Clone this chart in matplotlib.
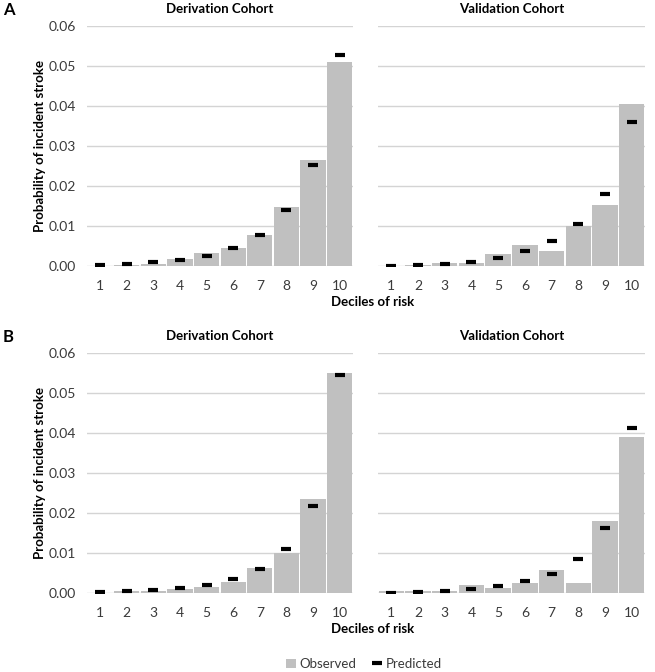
import matplotlib
matplotlib.use('Agg')
import matplotlib.pyplot as plt
from matplotlib.lines import Line2D
from matplotlib.patches import Patch
import numpy as np

plt.rcParams['font.family'] = ['Lato', 'DejaVu Sans']

# ─── Data ──────────────────────────────────────────────────────────────────────
deciles = [1, 2, 3, 4, 5, 6, 7, 8, 9, 10]

# Panel A
a_deriv_obs  = [0.0001, 0.0002, 0.0005, 0.0017, 0.0033, 0.0046, 0.0078, 0.0148, 0.0266, 0.0511]
a_deriv_pred = [0.0002, 0.0005, 0.0010, 0.0016, 0.0026, 0.0046, 0.0078, 0.0141, 0.0253, 0.0527]
a_valid_obs  = [0.0001, 0.0002, 0.0007, 0.0007, 0.0030, 0.0053, 0.0038, 0.0100, 0.0153, 0.0405]
a_valid_pred = [0.0001, 0.0003, 0.0006, 0.0011, 0.0021, 0.0037, 0.0063, 0.0106, 0.0180, 0.0361]

# Panel B
b_deriv_obs  = [0.0001, 0.0006, 0.0006, 0.0009, 0.0016, 0.0028, 0.0063, 0.0100, 0.0236, 0.0550]
b_deriv_pred = [0.0002, 0.0004, 0.0008, 0.0013, 0.0021, 0.0036, 0.0061, 0.0110, 0.0218, 0.0545]
b_valid_obs  = [0.0006, 0.0006, 0.0006, 0.0019, 0.0013, 0.0026, 0.0058, 0.0026, 0.0180, 0.0390]
b_valid_pred = [0.0001, 0.0002, 0.0005, 0.0009, 0.0017, 0.0029, 0.0048, 0.0084, 0.0162, 0.0413]

yticks = [0.00, 0.01, 0.02, 0.03, 0.04, 0.05, 0.06]

# ─── Layout ───────────────────────────────────────────────────────────────────
W, H = 655, 672
fig = plt.figure(figsize=(W / 100, H / 100), dpi=100)
fig.patch.set_facecolor('white')

BAR = '#c0c0c0'
GRID = '#d4d4d4'
TXT = '#3a3a3a'


def px_axes(x0, y0, x1, y1):
    return fig.add_axes([x0 / W, 1 - y1 / H, (x1 - x0) / W, (y1 - y0) / H])


def draw(ax, obs, pred, title, show_y):
    ax.set_axisbelow(True)
    for y in yticks:
        ax.axhline(y, color=GRID, linewidth=1.0, zorder=0)
    ax.bar(deciles, obs, width=0.95, color=BAR, edgecolor='none', zorder=2)
    ax.plot(deciles, pred, linestyle='none', marker='_', markersize=6.5,
            markeredgewidth=3, color='black', zorder=3)
    ax.set_xlim(0.5, 10.5)
    ax.set_ylim(0, 0.06)
    ax.set_xticks(deciles)
    ax.set_xticklabels([str(d) for d in deciles], fontsize=10, color=TXT)
    ax.set_yticks(yticks)
    if show_y:
        ax.set_yticklabels([f'{v:.2f}' for v in yticks], fontsize=10, color=TXT)
    else:
        ax.set_yticklabels([])
    ax.tick_params(axis='x', length=0, pad=10)
    ax.tick_params(axis='y', length=0, pad=8)
    for s in ax.spines.values():
        s.set_visible(False)
    ax.set_title(title, fontsize=9.5, fontweight='bold', pad=9)


panels = [
    ('A', 26, 266, a_deriv_obs, a_deriv_pred, a_valid_obs, a_valid_pred),
    ('B', 353, 593, b_deriv_obs, b_deriv_pred, b_valid_obs, b_valid_pred),
]

for letter, top, bot, d_obs, d_pred, v_obs, v_pred in panels:
    ax1 = px_axes(86.7, top, 353, bot)
    ax2 = px_axes(378, top, 645, bot)
    draw(ax1, d_obs, d_pred, 'Derivation Cohort', True)
    draw(ax2, v_obs, v_pred, 'Validation Cohort', False)
    fig.text(3 / W, 1 - (top - 16) / H, letter, fontsize=12, fontweight='bold',
             ha='left', va='center')
    fig.text(40 / W, 1 - ((top + bot) / 2) / H, 'Probability of incident stroke',
             rotation=90, fontsize=9.5, fontweight='bold', ha='center', va='center')
    fig.text(373 / W, 1 - (bot + 36) / H, 'Deciles of risk', fontsize=9.5,
             fontweight='bold', ha='center', va='center')

handles = [
    Patch(facecolor=BAR, edgecolor='none', label='Observed'),
    Line2D([], [], linestyle='none', marker='_', markersize=6.5,
           markeredgewidth=3, color='black', label='Predicted'),
]
fig.legend(handles=handles, loc='center', bbox_to_anchor=(364 / W, 1 - 664 / H),
           ncol=2, frameon=False, fontsize=9.5, handlelength=0.7, handletextpad=0.3,
           columnspacing=1.2, labelcolor=TXT)

fig.savefig('out.png', dpi=100, facecolor='white')
plt.close(fig)
